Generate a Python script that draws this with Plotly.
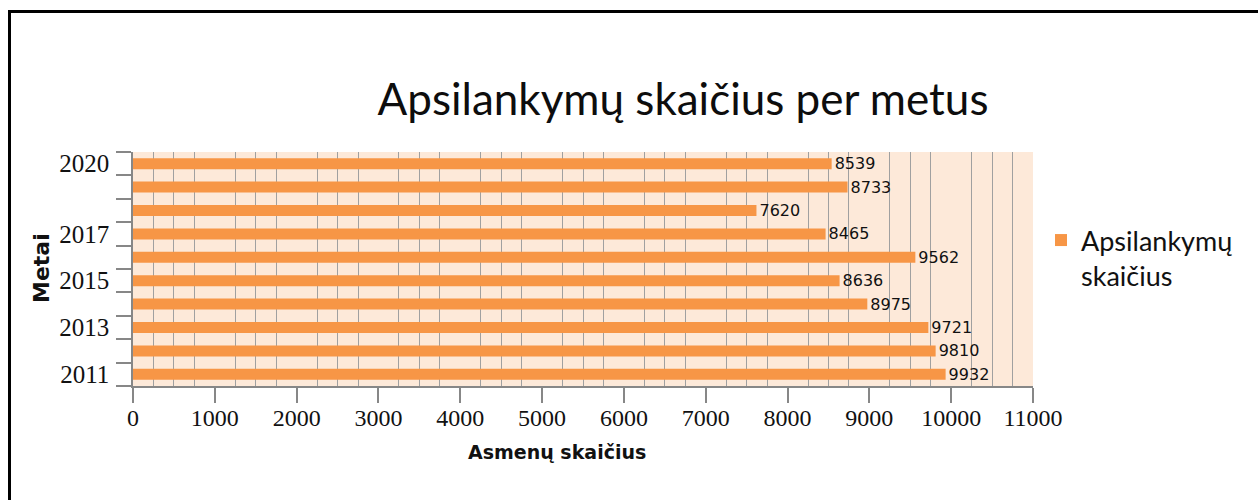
import plotly.graph_objects as go

# ---- data ----
years = [2011, 2012, 2013, 2014, 2015, 2016, 2017, 2018, 2019, 2020]
visits = [9932, 9810, 9721, 8975, 8636, 9562, 8465, 7620, 8733, 8539]
year_tick_vals = [2011, 2013, 2015, 2017, 2020]
year_tick_text = ["2011", "2013", "2015", "2017", "2020"]
series_name = "Apsilankymų<br>skaičius"
title_text = "Apsilankymų skaičius per metus"
x_title = "Asmenų skaičius"
y_title = "Metai"

# ---- layout geometry ----
W, H = 1258, 500
L, R, T, B = 133, 225, 152, 114
PW = W - L - R
PH = H - T - B


def px_x(px):
    return (px - L) / PW


def px_y(py):
    return (H - B - py) / PH


GRAY = "#878787"
ORANGE = "#F79646"

boundaries = [y - 0.5 for y in years] + [years[-1] + 0.5]

fig = go.Figure(go.Bar(
    x=visits, y=years, orientation="h", name=series_name,
    marker=dict(color=ORANGE, line=dict(width=0)),
    width=0.47,
    text=[str(v) for v in visits], textposition="outside",
    constraintext="none",
    textfont=dict(family="DejaVu Sans", size=16, color="#111111"),
    cliponaxis=False, showlegend=True,
))

fig.update_layout(
    width=W, height=H,
    margin=dict(l=L, r=R, t=T, b=B, autoexpand=False),
    paper_bgcolor="white",
    plot_bgcolor="#FDE9D9",
    title=dict(text=title_text, x=683 / W, xanchor="center", y=1 - 100 / H,
               yanchor="middle", font=dict(family="Lato", size=44, color="#0d0d0d")),
    showlegend=True,
    legend=dict(x=px_x(1041), y=px_y(216), xanchor="left", yanchor="top",
                valign="top", font=dict(family="Lato", size=27, color="#111111"),
                bgcolor="rgba(0,0,0,0)"),
    xaxis=dict(
        range=[0, 11000], tickmode="linear", tick0=0, dtick=1000, tickformat="d",
        ticks="outside", ticklen=15, tickcolor=GRAY, tickwidth=1.5,
        ticklabelstandoff=-6,
        showline=True, linecolor=GRAY, linewidth=1.5,
        showgrid=False, zeroline=False,
        minor=dict(tickmode="linear", tick0=0, dtick=250, showgrid=True,
                   gridcolor="#A0A0A0", gridwidth=1, ticks=""),
        tickfont=dict(family="Liberation Serif", size=24, color="#111111"),
    ),
    yaxis=dict(
        range=[years[0] - 0.5, years[-1] + 0.5],
        tickmode="array", tickvals=year_tick_vals, ticktext=year_tick_text,
        ticks="outside", ticklen=17, tickcolor="rgba(0,0,0,0)",
        showline=True, linecolor=GRAY, linewidth=1.5,
        showgrid=False, zeroline=False,
        minor=dict(tickmode="array", tickvals=boundaries, ticks="outside",
                   ticklen=15, tickcolor=GRAY, tickwidth=1.5, showgrid=False),
        tickfont=dict(family="Liberation Serif", size=25, color="#111111"),
    ),
    annotations=[
        dict(text=x_title, xref="paper", yref="paper", x=px_x(557), y=px_y(452),
             xanchor="center", yanchor="middle", showarrow=False,
             font=dict(family="DejaVu Sans", size=19, color="#111111", weight="bold")),
        dict(text=y_title, xref="paper", yref="paper", x=px_x(41), y=px_y(268),
             xanchor="center", yanchor="middle", showarrow=False, textangle=-90,
             font=dict(family="DejaVu Sans", size=22, color="#111111", weight="bold")),
    ],
    shapes=[
        dict(type="path", xref="paper", yref="paper",
             path=f"M {px_x(9.5)},{px_y(520)} L {px_x(9.5)},{px_y(11.5)} L {px_x(1280)},{px_y(11.5)}",
             line=dict(color="black", width=3)),
    ],
)

fig.write_html("out.html", config={"displayModeBar": False},
               post_script="document.body.style.margin='0';")
